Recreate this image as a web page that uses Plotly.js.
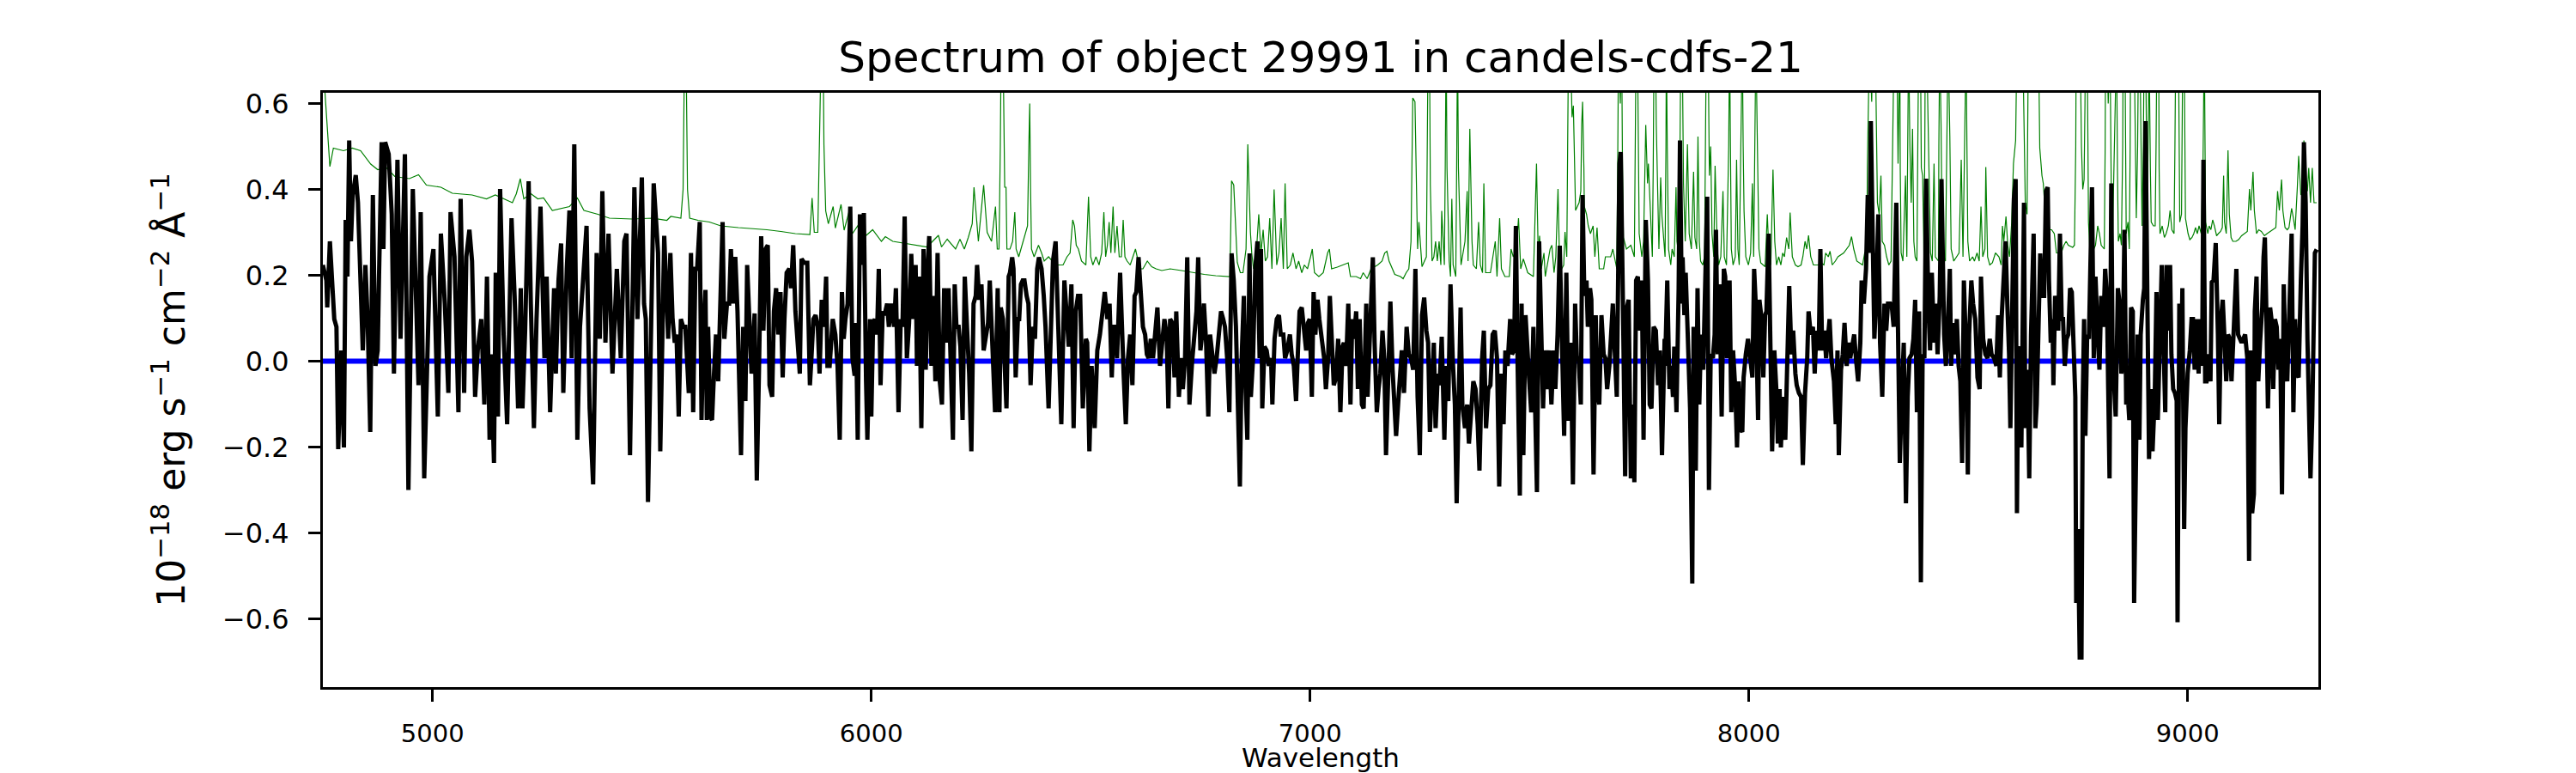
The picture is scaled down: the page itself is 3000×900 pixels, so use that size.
<!DOCTYPE html>
<html>
<head>
<meta charset="utf-8">
<script src="https://cdn.plot.ly/plotly-3.0.1.min.js"></script>
<style>
  html, body { margin: 0; padding: 0; background: #ffffff; }
  #plot { width: 3000px; height: 900px; }
</style>
</head>
<body>
<div id="plot"></div>
<script>
// Spectrum of object 29991 (candels-cdfs-21).
// Flux in 1e-18 erg/s/cm^2/A, wavelength in Angstrom.

const fluxWave = [
  4750, 4758, 4760, 4766, 4772, 4776, 4781, 4785, 4792, 4798, 4802, 4806, 4810, 4814, 4818, 4825, 4830, 4835, 4841, 4847,
  4852, 4858, 4864, 4870, 4875, 4878, 4884, 4888, 4892, 4900, 4907, 4912, 4920, 4927, 4937, 4945, 4955, 4963, 4968, 4973,
  4981, 4993, 5002, 5012, 5019, 5028, 5036, 5041, 5050, 5059, 5064, 5072, 5077, 5084, 5090, 5097, 5103, 5111, 5118, 5124,
  5130, 5133, 5140, 5144, 5149, 5154, 5162, 5170, 5180, 5187, 5195, 5201, 5205, 5211, 5219, 5224, 5231, 5237, 5246, 5255,
  5260, 5268, 5277, 5281, 5287, 5293, 5298, 5306, 5312, 5317, 5323, 5330, 5336, 5343, 5351, 5358, 5366, 5374, 5381, 5387,
  5394, 5401, 5410, 5420, 5429, 5437, 5442, 5450, 5460, 5467, 5477, 5482, 5486, 5491, 5497, 5504, 5514, 5519,
  5528, 5534, 5537, 5542, 5547, 5552, 5556, 5561, 5566, 5571, 5576, 5579, 5584, 5589, 5594, 5599, 5603, 5609, 5613, 5617,
  5622, 5625, 5628, 5633, 5637, 5641, 5646, 5651, 5655, 5661, 5665, 5671, 5676, 5680, 5685, 5690, 5695, 5703, 5708, 5713,
  5717, 5723, 5727, 5734, 5739, 5744, 5749, 5754, 5759, 5764, 5768, 5774, 5778, 5783, 5788, 5793, 5798, 5802, 5807, 5813,
  5817, 5822, 5827, 5834, 5837, 5841, 5847, 5854, 5860, 5863, 5868, 5873, 5878, 5882, 5887, 5892, 5897, 5900, 5905, 5912,
  5918, 5923, 5928, 5933, 5937, 5941, 5946, 5952, 5957, 5962, 5965, 5969, 5974, 5978, 5983, 5988, 5991, 5997, 6000, 6004,
  6008, 6013, 6017, 6021, 6026, 6030, 6036, 6040, 6045, 6052, 6056, 6062, 6067, 6071, 6076, 6081, 6086, 6091, 6096, 6101,
  6104, 6109, 6114, 6119, 6124, 6129, 6132, 6137, 6141, 6146, 6151, 6156, 6161, 6166, 6171, 6176, 6181, 6186, 6190, 6194,
  6199, 6203, 6208, 6213, 6218, 6223, 6228, 6233, 6238, 6241, 6246, 6251, 6256, 6261, 6266, 6270, 6275, 6279, 6282,
  6288, 6292, 6295, 6300, 6304, 6308, 6313, 6316, 6321, 6324, 6329, 6334, 6337, 6341, 6345, 6349, 6354, 6358, 6363, 6368,
  6373, 6378, 6382, 6388, 6393, 6397, 6404, 6409, 6414, 6420, 6427, 6433, 6440, 6445, 6450, 6456, 6461, 6466, 6471, 6476,
  6482, 6489, 6492, 6497, 6502, 6509, 6515, 6521, 6528, 6532, 6538, 6543, 6548, 6552, 6556, 6560, 6567, 6572, 6575, 6580,
  6585, 6590, 6595, 6600, 6604, 6609, 6615, 6619, 6624, 6628, 6632, 6637, 6642, 6647, 6652, 6658, 6663, 6668, 6673, 6677,
  6681, 6686, 6691, 6695, 6701, 6706, 6710, 6715, 6720, 6725, 6731, 6737, 6741, 6745, 6750, 6754, 6758, 6763, 6768, 6772,
  6778, 6782, 6787, 6792, 6797, 6802, 6806, 6811, 6816, 6821, 6826, 6831, 6836, 6840, 6844, 6849, 6853, 6857, 6862, 6865,
  6870, 6875, 6880, 6885, 6888, 6891, 6896, 6901, 6906, 6911, 6914, 6919, 6924, 6929, 6933, 6939, 6943, 6948, 6954, 6958,
  6963, 6968, 6973, 6976, 6981, 6986, 6991, 6995, 6999, 7004, 7008, 7012, 7017, 7021, 7027, 7032, 7036, 7041, 7045,
  7054, 7059, 7064, 7069, 7074, 7077, 7082, 7087, 7092, 7096, 7100, 7105, 7109, 7113, 7118, 7122, 7128, 7131, 7135, 7139,
  7143, 7147, 7152, 7156, 7160, 7165, 7169, 7173, 7178, 7183, 7188, 7192, 7196, 7201, 7205, 7209, 7214, 7220, 7225, 7230,
  7235, 7240, 7245, 7250, 7255, 7260, 7265, 7269, 7273, 7278, 7282, 7286, 7291, 7295, 7300, 7306, 7310, 7315, 7320, 7325,
  7330, 7334, 7338, 7343, 7347, 7353, 7358, 7362, 7367, 7372, 7377, 7382, 7386, 7392, 7396, 7401, 7406, 7411, 7416, 7421,
  7426, 7431, 7436, 7441, 7445, 7450, 7456, 7460, 7465, 7469, 7473, 7478, 7482, 7486, 7491, 7495, 7499, 7504, 7509, 7512,
  7517, 7522, 7527, 7531, 7535, 7540, 7545, 7550, 7555, 7559, 7564, 7569, 7574, 7579, 7584, 7589, 7594, 7599, 7604, 7608,
  7612, 7617, 7621, 7625, 7630, 7633, 7638, 7641, 7646, 7651, 7654, 7659, 7664, 7669, 7673, 7677, 7682, 7686, 7690, 7695,
  7699, 7705, 7708, 7713, 7718, 7722, 7726, 7731, 7735, 7739, 7743, 7747, 7752, 7756, 7760, 7765, 7770, 7774, 7778, 7783,
  7788, 7793, 7797, 7802, 7808,
  7809, 7814, 7819, 7823, 7827, 7830, 7835, 7840, 7843, 7847, 7849, 7853, 7856, 7861, 7866, 7871, 7874, 7879, 7883, 7887,
  7891, 7896, 7900, 7905, 7909, 7913, 7918, 7922, 7925, 7929, 7933, 7938, 7943, 7946, 7950, 7956, 7960, 7964, 7969, 7973,
  7977, 7980, 7985, 7988, 7993, 7998, 8003, 8008, 8012, 8016, 8021, 8024, 8029, 8033, 8037, 8040, 8045, 8049, 8053, 8058,
  8063, 8066, 8070, 8073, 8077, 8083, 8088, 8092, 8097, 8101, 8106, 8109, 8114, 8119, 8123, 8128, 8133, 8136, 8141, 8146,
  8150, 8154, 8159, 8163, 8167, 8172, 8176, 8181, 8184, 8188, 8194, 8198, 8202, 8205, 8210, 8214, 8218, 8223, 8227, 8231,
  8236, 8240, 8244, 8249, 8254, 8257, 8262, 8267, 8271, 8275, 8278, 8282, 8286, 8290, 8295, 8299, 8304, 8309, 8313, 8317,
  8322, 8326, 8330, 8336, 8340, 8344, 8349, 8353, 8358, 8362, 8366, 8371, 8375, 8379, 8383, 8388, 8392, 8396, 8400, 8404,
  8409, 8413, 8417, 8422, 8426, 8430, 8435, 8439, 8445, 8449, 8453, 8458, 8461, 8465, 8469, 8474, 8478, 8482, 8486, 8490,
  8495, 8499, 8502, 8507, 8511, 8516, 8521, 8526, 8529, 8534, 8539, 8544, 8549, 8553, 8559, 8564, 8568,
  8572, 8576, 8580, 8585, 8589, 8593, 8596, 8601, 8604, 8608, 8611, 8614, 8617, 8621, 8624, 8627, 8630, 8635, 8639, 8643,
  8649, 8653, 8656, 8661, 8664, 8668, 8673, 8677, 8681, 8684, 8688, 8692, 8694, 8698, 8702, 8705, 8709, 8713, 8716, 8720,
  8724, 8728, 8732, 8736, 8740, 8744, 8746, 8750, 8754, 8758, 8761, 8764, 8767, 8771, 8775, 8779, 8782, 8786, 8790, 8795,
  8799, 8803, 8808, 8812, 8816, 8819, 8822, 8826, 8829, 8832, 8836, 8841, 8845, 8849, 8852, 8856, 8860, 8864, 8867, 8871,
  8875, 8878, 8882, 8886, 8890, 8893, 8898, 8901, 8904, 8908, 8912, 8916, 8920, 8925, 8929, 8932, 8937, 8941, 8945, 8949,
  8952, 8956, 8960, 8963, 8967, 8971, 8975, 8977, 8981, 8985, 8988, 8992, 8995, 9000, 9005, 9009, 9012, 9016, 9020, 9025,
  9028, 9033, 9036, 9040, 9043, 9048, 9052, 9055, 9059, 9064, 9069, 9072, 9076, 9080, 9084, 9088, 9092, 9096, 9100, 9104,
  9108, 9111, 9115, 9119, 9123, 9127, 9131, 9136, 9140, 9143, 9147, 9151, 9153, 9157, 9161, 9165, 9170, 9173, 9176, 9179,
  9183, 9188, 9191, 9195, 9199, 9203, 9207, 9211, 9215, 9219, 9223, 9227, 9231, 9234, 9237, 9241, 9245, 9249, 9253, 9258,
  9262, 9265, 9269, 9273, 9277, 9280, 9284, 9288, 9290, 9294
];

const fluxValues = [
  0.224, 0.188, 0.125, 0.279, 0.170, 0.098, 0.080, -0.205, 0.025, -0.201, 0.329, 0.197, 0.514, 0.279, 0.387, 0.433, 0.369, 0.224, 0.025, 0.224,
  0.098, -0.165, 0.387, -0.011, 0.025, 0.197, 0.510, 0.261, 0.510, 0.482, 0.342, -0.029, 0.469, 0.052, 0.482, -0.300, 0.401, 0.125, -0.056, 0.347,
  -0.273, 0.197, 0.261, -0.129, 0.297, 0.134, -0.074, 0.347, 0.243, -0.119, 0.378, -0.074, 0.243, 0.306, 0.233, -0.083, 0.025, 0.098, -0.101, 0.197,
  -0.183, 0.016, -0.237, 0.206, -0.129, 0.401, 0.062, -0.147, 0.333, 0.152, -0.110, 0.170, -0.110, 0.071, 0.419, 0.134, -0.156, 0.098, 0.360, 0.007,
  0.197, -0.119, 0.170, -0.029, 0.188, 0.274, -0.074, 0.215, 0.351, 0.007, 0.505, -0.183, 0.080, 0.188, 0.315, -0.110, -0.287, 0.252, 0.052, 0.396,
  0.043, 0.297, -0.029, 0.215, 0.007, 0.279, 0.297, -0.219, 0.405, 0.098, 0.428, 0.134, 0.098, -0.328, 0.043, 0.414, 0.252, -0.210,
  0.292, 0.098, 0.052, 0.252, 0.098, 0.043, 0.062, -0.129, 0.098, 0.080, 0.080, 0.025, -0.074, 0.252, -0.119, 0.215, 0.215, 0.324, -0.137, 0.062,
  0.166, -0.137, 0.080, -0.129, -0.137, -0.038, 0.062, -0.047, 0.134, 0.324, 0.052, 0.134, 0.134, 0.261, 0.134, 0.243, 0.116, -0.219, 0.080, -0.093,
  0.224, 0.080, -0.029, 0.111, -0.278, -0.020, 0.291, 0.071, 0.261, 0.270, -0.056, -0.083, 0.116, 0.170, 0.062, 0.161, -0.038, 0.098, 0.206, 0.215,
  0.170, 0.270, 0.116, 0.016, -0.029, 0.238, 0.229, 0.229, -0.056, -0.002, 0.098, 0.107, 0.080, -0.029, 0.143, 0.080, 0.197, -0.011, -0.011, 0.098,
  0.062, -0.011, -0.183, 0.161, 0.052, 0.098, 0.134, 0.360, 0.007, -0.034, 0.089, -0.183, 0.342, 0.224, 0.345, -0.047, -0.183, 0.098, -0.129, 0.089,
  0.098, 0.062, 0.215, -0.056, 0.116, 0.107, 0.134, 0.080, 0.134, 0.080, 0.170, -0.119, 0.098, 0.080, 0.337, 0.007, 0.089, 0.250, 0.098, 0.224,
  -0.011, 0.197, -0.156, 0.261, -0.020, 0.233, 0.291, -0.011, 0.152, -0.047, 0.252, -0.047, -0.101, 0.170, 0.043, 0.170, 0.007, -0.183, 0.179, 0.080,
  0.080, 0.034, -0.137, 0.197, 0.080, -0.029, -0.210, 0.134, 0.152, 0.224, 0.143, 0.179, 0.025, 0.062, 0.089, 0.188, 0.080, -0.029, -0.119,
  0.170, -0.119, 0.125, 0.098, -0.011, -0.110, 0.197, 0.206, 0.242, 0.215, -0.038, 0.098, 0.098, 0.179, 0.188, 0.188, 0.152, 0.134, -0.056, 0.080,
  0.052, 0.215, 0.242, 0.215, 0.152, 0.080, -0.110, 0.098, 0.233, 0.279, 0.007, -0.147, 0.188, 0.098, 0.034, 0.179, -0.156, 0.116, 0.152, 0.152,
  -0.110, 0.052, 0.043, -0.210, -0.011, -0.156, 0.025, 0.062, 0.134, 0.161, 0.098, 0.134, -0.038, 0.080, 0.080, 0.007, 0.206, 0.025, -0.029, -0.147,
  0.007, 0.062, -0.056, 0.152, 0.161, 0.242, 0.161, 0.080, 0.062, 0.016, 0.007, 0.052, 0.007, 0.080, 0.125, -0.011, 0.043, 0.098, 0.062, -0.110,
  0.098, 0.089, -0.038, 0.116, -0.083, 0.007, -0.065, 0.007, 0.242, -0.101, -0.002, 0.062, 0.116, 0.242, 0.025, 0.062, 0.134, 0.043, -0.129, 0.062,
  0.007, -0.029, 0.007, 0.062, 0.116, 0.098, 0.080, 0.007, -0.119, 0.251, 0.188, 0.080, -0.110, -0.292, 0.007, 0.152, -0.065, -0.183, 0.251, -0.083,
  0.007, 0.215, 0.279, 0.007, 0.261, -0.110, 0.034, 0.025, -0.011, 0.007, -0.101, 0.052, 0.098, 0.107, 0.062, 0.062, 0.007, 0.025, 0.062, 0.016,
  -0.011, -0.093, 0.043, 0.116, 0.125, 0.062, 0.025, 0.089, 0.098, -0.083, 0.161, 0.062, 0.143, 0.098, 0.052, 0.007, -0.065, 0.007, 0.152,
  -0.056, -0.038, 0.052, -0.119, 0.034, 0.043, -0.011, 0.134, -0.101, 0.098, 0.052, 0.116, -0.065, 0.098, -0.101, -0.110, 0.134, -0.083, 0.016, 0.170,
  0.242, 0.043, -0.119, -0.065, -0.029, 0.071, 0.007, -0.219, -0.029, 0.139, -0.020, -0.083, -0.174, -0.093, -0.011, 0.025, -0.074, 0.080, 0.016, 0.007,
  -0.020, 0.215, -0.083, -0.219, 0.107, 0.148, 0.071, 0.043, -0.165, -0.020, 0.043, -0.156, -0.029, -0.056, 0.057, -0.183, -0.011, -0.093, 0.179, 0.007,
  -0.101, -0.331, -0.065, 0.125, -0.101, -0.156, -0.101, -0.192, -0.119, -0.047, -0.065, -0.147, -0.255, 0.007, 0.071, -0.156, -0.065, -0.056, 0.062, 0.071,
  0.007, -0.292, -0.029, -0.147, 0.025, -0.011, 0.098, 0.016, 0.025, 0.315, -0.011, -0.313, 0.134, -0.219, 0.107, 0.007, -0.038, -0.119, 0.080, -0.065,
  -0.305, 0.279, 0.052, -0.110, 0.025, -0.065, 0.025, -0.101, 0.025, -0.065, 0.062, 0.269, 0.043, -0.174, 0.206, -0.139, 0.043, -0.287, 0.134, 0.007,
  0.007, -0.101, 0.387, 0.152, 0.188, 0.080, 0.170, 0.143, -0.264, 0.107, -0.065, -0.101, 0.107, 0.016, 0.007, -0.065, -0.011, 0.080, 0.134, 0.007,
  -0.083, 0.460, 0.487, 0.134, -0.268, 0.125, 0.143, -0.273, -0.101, -0.282, 0.188, 0.197, 0.071, 0.188, -0.183, 0.329, 0.188, -0.101, -0.110, 0.080,
  0.071, -0.056, 0.025, -0.219, 0.052,
  -0.011, 0.188, -0.065, -0.011, -0.083, 0.034, -0.119, 0.170, 0.514, 0.134, 0.242, 0.107, 0.206, 0.052, -0.110, -0.518, 0.080, -0.255, 0.170, -0.101,
  0.062, -0.020, 0.125, 0.383, -0.300, 0.016, 0.007, 0.062, 0.306, 0.016, 0.179, -0.129, 0.215, 0.197, 0.007, 0.188, -0.119, 0.025, -0.065, -0.201,
  -0.047, -0.156, -0.165, -0.038, 0.016, 0.052, 0.007, -0.038, 0.215, 0.125, -0.137, 0.143, 0.098, -0.038, 0.107, 0.116, 0.297, 0.080, -0.210, 0.025,
  -0.074, -0.192, -0.065, -0.201, -0.083, -0.183, 0.007, 0.175, 0.016, 0.071, -0.029, -0.056, -0.074, -0.083, -0.242, -0.074, 0.007, 0.116, 0.062, 0.080,
  -0.029, 0.071, 0.025, 0.261, 0.025, 0.071, 0.007, 0.052, 0.098, 0.007, -0.047, -0.147, 0.025, -0.219, -0.020, 0.016, 0.089, -0.011, 0.043, 0.007,
  0.043, 0.062, 0.007, -0.047, 0.043, 0.188, 0.134, 0.215, 0.387, 0.252, 0.559, 0.324, 0.052, 0.143, 0.342, 0.043, -0.083, 0.134, 0.071, 0.134,
  0.134, 0.125, 0.080, 0.369, 0.052, -0.237, -0.065, 0.043, -0.331, -0.083, 0.007, 0.016, 0.052, 0.143, -0.119, 0.116, -0.515, 0.016, 0.007, 0.425,
  0.134, 0.025, 0.206, 0.043, 0.134, 0.016, 0.152, 0.424, 0.062, -0.011, 0.071, 0.215, -0.011, 0.089, 0.016, 0.098, -0.011, -0.047, -0.237, 0.188,
  0.025, -0.264, 0.062, 0.188, 0.134, 0.098, -0.038, -0.065, 0.197, 0.052, 0.016, 0.007, 0.052, 0.016, 0.007, -0.011, 0.107,
  -0.038, 0.098, 0.197, 0.279, 0.134, 0.016, -0.156, 0.125, 0.378, 0.424, -0.354, 0.025, 0.034, -0.201, 0.098, 0.369, -0.156, -0.020, -0.273, 0.062,
  0.297, -0.156, -0.101, 0.134, 0.251, 0.152, 0.152, 0.396, 0.405, 0.188, 0.043, 0.098, -0.056, 0.152, 0.134, 0.071, 0.297, 0.098, 0.098, -0.011,
  0.052, 0.062, 0.170, 0.161, 0.007, -0.083, -0.563, -0.391, -0.690, -0.690, -0.083, 0.098, -0.174, 0.062, 0.052, 0.261, 0.405, 0.007, 0.197, 0.062,
  -0.020, 0.152, 0.080, 0.215, 0.152, -0.065, -0.273, 0.414, 0.007, -0.047, -0.129, 0.170, 0.134, -0.029, 0.007, 0.306, -0.101, -0.083, -0.137, 0.125,
  0.116, -0.563, -0.174, 0.062, -0.183, 0.062, 0.143, 0.170, 0.559, 0.152, -0.228, -0.065, -0.210, -0.083, 0.161, -0.137, 0.062, 0.224, 0.043, -0.119,
  0.224, 0.071, 0.224, 0.016, -0.065, -0.074, -0.092, -0.608, 0.134, -0.038, 0.170, -0.391, -0.156, -0.029, 0.025, 0.098, 0.098, -0.020, 0.098, -0.029,
  0.098, -0.011, 0.469, -0.047, -0.047, 0.016, -0.047, 0.184, 0.188, 0.275, 0.062, -0.147, 0.098, 0.143, 0.052, -0.047, 0.062, 0.052, -0.047, 0.062,
  0.197, 0.215, 0.062, 0.052, 0.043, 0.052, 0.062, 0.007, -0.465, 0.025, -0.354, -0.310, 0.116, 0.197, -0.047, 0.043, 0.125, 0.242, 0.288, 0.134,
  -0.110, 0.125, 0.098, -0.065, 0.098, 0.080, -0.020, 0.052, -0.310, 0.179, 0.007, -0.047, 0.134, 0.161, 0.297, -0.119, 0.098, -0.029, -0.038, 0.188,
  0.315, 0.510, 0.369, 0.052, -0.219, -0.273, -0.129, 0.143, 0.252, 0.260
];

const noiseWave = [
  4750, 4755, 4762, 4766, 4774, 4797, 4817, 4836, 4859, 4875, 4895, 4914, 4947, 4968, 4986, 5019, 5045, 5090, 5123, 5143,
  5182, 5191, 5200, 5208, 5224, 5240, 5253, 5273, 5312, 5330, 5345, 5377, 5403, 5455,
  5501, 5534, 5543, 5566, 5571, 5574, 5578, 5581, 5586, 5605, 5631, 5657, 5697, 5762, 5794, 5827, 5860, 5865, 5870, 5878,
  5886, 5890, 5892, 5896, 5902, 5913, 5918, 5931, 5938, 5951, 5957, 5969, 5983, 6003, 6023, 6032, 6049, 6075, 6101, 6127,
  6153, 6160, 6173, 6192, 6202, 6212, 6221, 6230, 6234, 6244, 6256, 6264, 6274,
  6283, 6287, 6291, 6294, 6296, 6300, 6302, 6304, 6307, 6309, 6316, 6322, 6327, 6330, 6336, 6341, 6345, 6353, 6356, 6359,
  6361, 6363, 6365, 6371, 6381, 6388, 6394, 6404, 6420, 6437, 6446, 6453, 6459, 6463, 6467, 6472, 6479, 6489, 6495, 6500,
  6505, 6512, 6519, 6525, 6530, 6534, 6538, 6542, 6546, 6551, 6555, 6560, 6565, 6570, 6574, 6578, 6583, 6590, 6596, 6602,
  6606, 6609, 6619, 6629, 6639, 6649, 6662, 6681, 6707, 6733, 6759, 6785, 6817, 6819, 6821, 6826, 6830, 6834, 6841, 6847,
  6854, 6856, 6858, 6861, 6864, 6867, 6871, 6878, 6883, 6888, 6893, 6898, 6903, 6908, 6913, 6918, 6924, 6929, 6934, 6939,
  6943, 6948, 6955, 6961, 6968, 6974, 6981, 6987, 6994, 7001, 7005, 7010, 7020, 7030, 7040,
  7044, 7049, 7062, 7076, 7087, 7092, 7105, 7115, 7121, 7130, 7139, 7154, 7164, 7170, 7175, 7180, 7193, 7206, 7212, 7219,
  7225, 7230, 7234, 7239, 7242, 7245, 7248, 7252, 7255, 7265, 7267, 7269, 7272, 7274, 7278, 7282, 7286, 7290, 7294, 7298,
  7300, 7306, 7308, 7310, 7312, 7317, 7320, 7323, 7326, 7332, 7334, 7336, 7338, 7344, 7353, 7358, 7360, 7364, 7369, 7372,
  7379, 7384, 7388, 7393, 7396, 7400, 7411, 7422, 7426, 7432, 7436, 7444, 7454, 7458, 7463, 7470, 7475, 7480, 7486, 7496,
  7509, 7516, 7520, 7523, 7527, 7533, 7536, 7547, 7551, 7556, 7560, 7565, 7569, 7578, 7581, 7585, 7587, 7589, 7593, 7597,
  7600, 7605, 7613, 7617, 7619, 7621, 7624, 7625, 7630, 7634, 7639, 7645, 7649, 7654, 7659, 7669, 7673, 7685, 7690, 7699,
  7701, 7703, 7707, 7710, 7712, 7714, 7721, 7731, 7739, 7741, 7743, 7746, 7748, 7750, 7756, 7760, 7765, 7769, 7771, 7775,
  7780, 7782, 7784, 7787, 7789, 7795, 7799, 7802, 7807,
  7809, 7811, 7812, 7814, 7817, 7822, 7825, 7830, 7834, 7836, 7841, 7843, 7845, 7848, 7851, 7855, 7860, 7864, 7869, 7874,
  7877, 7881, 7884, 7887, 7890, 7895, 7899, 7901, 7903, 7907, 7910, 7913, 7916, 7920, 7923, 7928, 7931, 7936, 7941, 7944,
  7949, 7954, 7956, 7958, 7960, 7964, 7969, 7972, 7975, 7978, 7983, 7985, 7987, 7989, 7993, 7999, 8004, 8008, 8011, 8014,
  8016, 8019, 8023, 8027, 8037, 8042, 8046, 8050, 8055, 8059, 8063, 8068, 8073, 8077, 8081, 8086, 8091, 8094, 8099, 8106,
  8112, 8119, 8123, 8128, 8132, 8136, 8141, 8147, 8158, 8164, 8171, 8175, 8181, 8185, 8190, 8197, 8203, 8216, 8223, 8229,
  8234, 8239, 8246, 8252, 8259, 8264, 8269, 8270, 8272, 8275, 8280, 8282, 8288, 8291, 8293, 8297, 8301, 8304, 8309, 8314,
  8319, 8324, 8328, 8331, 8337, 8339, 8340, 8342, 8344, 8345, 8347, 8351, 8357, 8360, 8363, 8364, 8367, 8370, 8373, 8376,
  8379, 8383, 8385, 8387, 8391, 8393, 8396, 8399, 8401, 8402, 8405, 8409, 8414, 8418, 8422, 8425, 8432, 8433, 8435, 8438,
  8441, 8448, 8452, 8454, 8458, 8461, 8467, 8474, 8479, 8484, 8488, 8492, 8495, 8497, 8499, 8503, 8510, 8514, 8520, 8525,
  8529, 8533, 8538, 8540, 8544, 8549, 8555, 8562, 8570,
  8575, 8578, 8581, 8586, 8590, 8594, 8599, 8603, 8608, 8611, 8624, 8627, 8630, 8634, 8637, 8660, 8663, 8668, 8671, 8675,
  8679, 8686, 8690, 8696, 8701, 8712, 8718, 8723, 8728, 8738, 8742, 8745, 8746, 8755, 8758, 8761, 8764, 8766, 8767, 8771,
  8774, 8777, 8780, 8786, 8790, 8795, 8799, 8803, 8810, 8812, 8813, 8816, 8819, 8823, 8825, 8826, 8829, 8834, 8838, 8840,
  8842, 8846, 8849, 8852, 8853, 8857, 8859, 8860, 8864, 8867, 8869, 8870, 8878, 8881, 8883, 8886, 8888, 8891, 8894, 8896,
  8899, 8901, 8904, 8906, 8908, 8911, 8912, 8915, 8917, 8922, 8926, 8928, 8930, 8934, 8935, 8937, 8942, 8947, 8951, 8956,
  8960, 8964, 8969, 8971, 8973, 8979, 8981, 8982, 8986, 8988, 8989, 8992, 8994, 8995, 9001, 9005, 9010, 9014, 9018, 9022,
  9026, 9031, 9035, 9037, 9038, 9040, 9041, 9046, 9049, 9053, 9057, 9061, 9066, 9070, 9075, 9079, 9082, 9084, 9088, 9092,
  9095, 9099, 9103, 9110, 9116, 9123, 9129, 9136, 9141, 9144, 9149, 9152, 9157, 9162, 9168, 9175, 9181, 9188, 9194, 9201,
  9205, 9209, 9214, 9217, 9222, 9227, 9231, 9237, 9241, 9245, 9250, 9253, 9258, 9262, 9265, 9269, 9273, 9276, 9280, 9284,
  9288, 9294
];

const noiseValues = [
  0.700, 0.620, 0.520, 0.453, 0.496, 0.490, 0.496, 0.490, 0.459, 0.446, 0.450, 0.430, 0.425, 0.434, 0.410, 0.405, 0.391, 0.387, 0.378, 0.387,
  0.369, 0.390, 0.425, 0.378, 0.390, 0.378, 0.380, 0.351, 0.360, 0.380, 0.351, 0.342, 0.333, 0.331,
  0.333, 0.328, 0.337, 0.333, 0.400, 0.700, 0.700, 0.400, 0.333, 0.328, 0.324, 0.315, 0.311, 0.306, 0.302, 0.297, 0.295, 0.380, 0.300, 0.300,
  0.750, 0.750, 0.505, 0.350, 0.320, 0.360, 0.310, 0.365, 0.305, 0.355, 0.297, 0.315, 0.288, 0.306, 0.279, 0.290, 0.279, 0.275, 0.270, 0.266,
  0.293, 0.266, 0.284, 0.261, 0.284, 0.261, 0.288, 0.320, 0.405, 0.279, 0.410, 0.300, 0.279,
  0.360, 0.261, 0.261, 0.500, 0.750, 0.750, 0.500, 0.405, 0.405, 0.261, 0.261, 0.279, 0.347, 0.261, 0.243, 0.261, 0.279, 0.306, 0.315, 0.500,
  0.600, 0.400, 0.261, 0.243, 0.270, 0.252, 0.233, 0.243, 0.224, 0.224, 0.243, 0.252, 0.329, 0.315, 0.270, 0.261, 0.233, 0.224, 0.383, 0.243,
  0.224, 0.243, 0.224, 0.252, 0.347, 0.243, 0.270, 0.324, 0.252, 0.360, 0.252, 0.315, 0.243, 0.243, 0.329, 0.243, 0.233, 0.224, 0.243, 0.261,
  0.243, 0.215, 0.215, 0.233, 0.220, 0.215, 0.211, 0.215, 0.211, 0.206, 0.202, 0.199, 0.197, 0.300, 0.420, 0.410, 0.300, 0.230, 0.206, 0.206,
  0.261, 0.400, 0.505, 0.400, 0.300, 0.252, 0.215, 0.261, 0.342, 0.252, 0.306, 0.233, 0.243, 0.333, 0.215, 0.400, 0.224, 0.252, 0.333, 0.215,
  0.414, 0.215, 0.224, 0.252, 0.215, 0.233, 0.206, 0.224, 0.215, 0.243, 0.261, 0.206, 0.197, 0.206, 0.252,
  0.261, 0.215, 0.219, 0.224, 0.229, 0.197, 0.197, 0.192, 0.206, 0.192, 0.215, 0.224, 0.233, 0.252, 0.256, 0.233, 0.202, 0.197, 0.192, 0.206,
  0.215, 0.279, 0.613, 0.604, 0.460, 0.261, 0.324, 0.261, 0.220, 0.243, 0.500, 0.750, 0.750, 0.410, 0.233, 0.243, 0.279, 0.233, 0.279, 0.224,
  0.350, 0.224, 0.450, 0.750, 0.450, 0.233, 0.197, 0.378, 0.224, 0.197, 0.450, 0.750, 0.450, 0.224, 0.279, 0.396, 0.233, 0.541, 0.279, 0.224,
  0.215, 0.324, 0.224, 0.206, 0.414, 0.206, 0.206, 0.279, 0.197, 0.333, 0.215, 0.197, 0.197, 0.261, 0.243, 0.261, 0.333, 0.215, 0.238, 0.206,
  0.197, 0.460, 0.243, 0.292, 0.215, 0.252, 0.197, 0.261, 0.270, 0.206, 0.243, 0.401, 0.206, 0.224, 0.301, 0.243, 0.500, 0.750, 0.750, 0.568,
  0.595, 0.351, 0.369, 0.396, 0.550, 0.604, 0.450, 0.360, 0.342, 0.315, 0.297, 0.315, 0.243, 0.311, 0.215, 0.215, 0.243, 0.243, 0.261, 0.215,
  0.450, 0.750, 0.600, 0.750, 0.450, 0.288, 0.261, 0.270, 0.243, 0.450, 0.750, 0.750, 0.400, 0.297, 0.243, 0.279, 0.550, 0.414, 0.460, 0.360,
  0.243, 0.450, 0.750, 0.750, 0.550, 0.261, 0.428, 0.337, 0.270,
  0.243, 0.500, 0.750, 0.500, 0.261, 0.224, 0.261, 0.243, 0.405, 0.279, 0.243, 0.500, 0.750, 0.750, 0.414, 0.279, 0.505, 0.297, 0.261, 0.441,
  0.288, 0.261, 0.523, 0.279, 0.233, 0.224, 0.243, 0.500, 0.750, 0.750, 0.432, 0.500, 0.297, 0.243, 0.455, 0.261, 0.224, 0.243, 0.396, 0.243,
  0.224, 0.500, 0.750, 0.500, 0.261, 0.224, 0.243, 0.469, 0.261, 0.224, 0.500, 0.750, 0.500, 0.350, 0.243, 0.224, 0.252, 0.414, 0.243, 0.500,
  0.750, 0.532, 0.261, 0.229, 0.220, 0.342, 0.243, 0.224, 0.446, 0.279, 0.224, 0.243, 0.224, 0.252, 0.243, 0.288, 0.261, 0.346, 0.243, 0.224,
  0.220, 0.224, 0.243, 0.279, 0.261, 0.293, 0.243, 0.224, 0.224, 0.229, 0.224, 0.252, 0.243, 0.256, 0.224, 0.233, 0.243, 0.252, 0.261, 0.270,
  0.290, 0.261, 0.233, 0.229, 0.224, 0.252, 0.261, 0.450, 0.604, 0.750, 0.604, 0.750, 0.750, 0.450, 0.369, 0.342, 0.432, 0.279, 0.270, 0.243,
  0.224, 0.233, 0.500, 0.750, 0.750, 0.500, 0.460, 0.600, 0.750, 0.450, 0.252, 0.233, 0.432, 0.243, 0.500, 0.750, 0.500, 0.369, 0.541, 0.279,
  0.243, 0.233, 0.500, 0.750, 0.750, 0.450, 0.432, 0.243, 0.500, 0.750, 0.750, 0.541, 0.252, 0.233, 0.460, 0.243, 0.233, 0.500, 0.750, 0.550,
  0.252, 0.233, 0.500, 0.750, 0.523, 0.261, 0.233, 0.243, 0.252, 0.469, 0.243, 0.532, 0.750, 0.500, 0.279, 0.233, 0.243, 0.233, 0.252, 0.233,
  0.360, 0.243, 0.261, 0.452, 0.243, 0.224, 0.229, 0.252, 0.243,
  0.224, 0.315, 0.279, 0.337, 0.270, 0.243, 0.324, 0.460, 0.514, 0.750, 0.750, 0.500, 0.369, 0.342, 0.750, 0.750, 0.496, 0.432, 0.414, 0.351,
  0.342, 0.306, 0.306, 0.297, 0.252, 0.252, 0.270, 0.279, 0.270, 0.265, 0.270, 0.500, 0.750, 0.750, 0.500, 0.400, 0.423, 0.600, 0.750, 0.750,
  0.324, 0.261, 0.279, 0.261, 0.270, 0.315, 0.297, 0.270, 0.261, 0.500, 0.750, 0.750, 0.600, 0.750, 0.450, 0.387, 0.297, 0.523, 0.750, 0.450,
  0.279, 0.297, 0.270, 0.500, 0.750, 0.750, 0.450, 0.297, 0.324, 0.261, 0.500, 0.750, 0.750, 0.450, 0.333, 0.500, 0.750, 0.750, 0.450, 0.315,
  0.500, 0.750, 0.750, 0.450, 0.342, 0.600, 0.750, 0.450, 0.324, 0.315, 0.315, 0.500, 0.750, 0.750, 0.450, 0.297, 0.315, 0.288, 0.297, 0.315,
  0.351, 0.306, 0.297, 0.500, 0.750, 0.750, 0.450, 0.324, 0.342, 0.500, 0.750, 0.750, 0.450, 0.333, 0.297, 0.283, 0.288, 0.297, 0.311, 0.297,
  0.315, 0.297, 0.460, 0.650, 0.750, 0.450, 0.324, 0.297, 0.315, 0.306, 0.329, 0.315, 0.292, 0.297, 0.302, 0.311, 0.432, 0.324, 0.297, 0.491,
  0.342, 0.288, 0.279, 0.279, 0.283, 0.292, 0.297, 0.302, 0.401, 0.351, 0.441, 0.351, 0.297, 0.306, 0.302, 0.292, 0.297, 0.302, 0.306, 0.311,
  0.396, 0.351, 0.423, 0.351, 0.311, 0.306, 0.311, 0.356, 0.333, 0.306, 0.405, 0.478, 0.387, 0.396, 0.514, 0.414, 0.396, 0.450, 0.369, 0.450,
  0.369, 0.369
];

const zeroWave = [4750, 9298];
const zeroValues = [0, 0];

const xTickVals = [5000, 6000, 7000, 8000, 9000];
const yTickVals = [-0.6, -0.4, -0.2, 0.0, 0.2, 0.4, 0.6];
const yTickText = ["\u22120.6", "\u22120.4", "\u22120.2", "0.0", "0.2", "0.4", "0.6"];

const FONT = "DejaVu Sans, sans-serif";

const traces = [
  {
    type: "scatter",
    mode: "lines",
    x: zeroWave,
    y: zeroValues,
    line: { color: "#0000ff", width: 6 },
    hoverinfo: "skip",
  },
  {
    type: "scatter",
    mode: "lines",
    x: noiseWave,
    y: noiseValues,
    line: { color: "#008000", width: 1.2 },
    hoverinfo: "skip",
  },
  {
    type: "scatter",
    mode: "lines",
    x: fluxWave,
    y: fluxValues,
    line: { color: "#000000", width: 5 },
    hoverinfo: "skip",
  },
];

const layout = {
  width: 3000,
  height: 900,
  paper_bgcolor: "#ffffff",
  plot_bgcolor: "#ffffff",
  showlegend: false,
  margin: { l: 376, r: 300, t: 108, b: 100 },
  font: { family: FONT, color: "#000000" },
  title: {
    text: "Spectrum of object 29991 in candels-cdfs-21",
    font: { family: FONT, size: 50, color: "#000000" },
    x: 0.5127,
    xanchor: "center",
    y: 1 - 66 / 900,
    yanchor: "middle",
  },
  xaxis: {
    range: [4750, 9298],
    tickvals: xTickVals,
    ticks: "outside",
    ticklen: 14,
    tickwidth: 3,
    tickcolor: "#000000",
    tickfont: { family: FONT, size: 29, color: "#000000" },
    ticklabelstandoff: 12,
    showline: true,
    mirror: true,
    linecolor: "#000000",
    linewidth: 3,
    showgrid: false,
    zeroline: false,
    title: {
      text: "Wavelength",
      font: { family: FONT, size: 31, color: "#000000" },
      standoff: 3,
    },
  },
  yaxis: {
    range: [-0.759, 0.625],
    tickvals: yTickVals,
    ticktext: yTickText,
    ticks: "outside",
    ticklen: 14,
    tickwidth: 3,
    tickcolor: "#000000",
    tickfont: { family: FONT, size: 32, color: "#000000" },
    ticklabelstandoff: 16,
    showline: true,
    mirror: true,
    linecolor: "#000000",
    linewidth: 3,
    showgrid: false,
    zeroline: false,
    title: {
      text: "10<sup>\u221218</sup> erg s<sup>\u22121</sup> cm<sup>\u22122</sup> \u00c5<sup>\u22121</sup>",
      font: { family: FONT, size: 44, color: "#000000" },
      standoff: 30,
    },
  },
};

Plotly.newPlot("plot", traces, layout, { displayModeBar: false, staticPlot: true });
</script>
</body>
</html>
